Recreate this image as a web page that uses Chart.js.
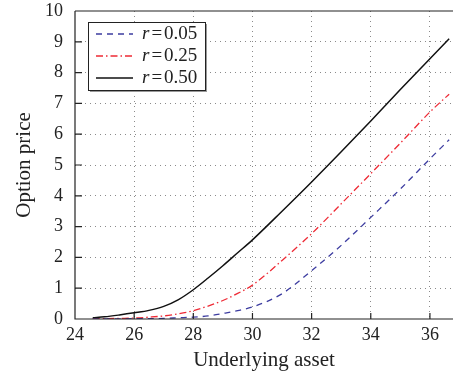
<!DOCTYPE html>
<html>
<head>
<meta charset="utf-8">
<script src="https://cdn.jsdelivr.net/npm/chart.js@4.4.1/dist/chart.umd.min.js"></script>
<style>
  html, body { margin: 0; padding: 0; background: #fff; }
  #chart { display: block; }
</style>
</head>
<body>
<canvas id="chart" width="453" height="375"></canvas>
<script>
const underlying = [24.6, 25, 25.5, 26, 26.5, 27, 27.5, 28, 28.5, 29, 29.5, 30, 31, 32, 33, 34, 35, 36, 36.65];
const priceR005 = [0.0, 0.0, 0.0, 0.01, 0.01, 0.02, 0.04, 0.06, 0.1, 0.18, 0.27, 0.39, 0.82, 1.57, 2.39, 3.3, 4.22, 5.2, 5.82];
const priceR025 = [0.01, 0.01, 0.02, 0.03, 0.06, 0.1, 0.17, 0.27, 0.42, 0.6, 0.83, 1.1, 1.9, 2.77, 3.74, 4.72, 5.71, 6.72, 7.3];
const priceR050 = [0.04, 0.07, 0.13, 0.2, 0.28, 0.41, 0.63, 0.95, 1.33, 1.73, 2.15, 2.57, 3.5, 4.45, 5.43, 6.43, 7.45, 8.45, 9.1];
const rates = ["0.05", "0.25", "0.50"];

const serif = "Liberation Serif";

const toPoints = (ys) => underlying.map((x, i) => ({ x: x, y: ys[i] }));

// frame, inward ticks and the boxed legend
const framePlugin = {
  id: "frame",
  afterDraw(chart) {
    const ctx = chart.ctx;
    const a = chart.chartArea;
    const xs = chart.scales.x;
    const ys = chart.scales.y;
    ctx.save();
    ctx.strokeStyle = "#222";
    ctx.lineWidth = 1.2;
    ctx.setLineDash([]);
    ctx.beginPath();
    ctx.moveTo(a.left, a.top);
    ctx.lineTo(a.left, a.bottom);
    ctx.lineTo(a.right, a.bottom);
    ctx.moveTo(a.left, a.top);
    ctx.lineTo(a.right, a.top);
    ys.ticks.forEach((t) => {
      const p = ys.getPixelForValue(t.value);
      ctx.moveTo(a.left, p);
      ctx.lineTo(a.left + 7, p);
    });
    xs.ticks.forEach((t) => {
      const p = xs.getPixelForValue(t.value);
      ctx.moveTo(p, a.bottom);
      ctx.lineTo(p, a.bottom - 6);
    });
    ctx.stroke();

    // legend
    const bx = 88, by = 22, bw = 117, bh = 68;
    ctx.fillStyle = "#999";
    ctx.fillRect(bx + 2, by + 2, bw, bh);
    ctx.fillStyle = "#fff";
    ctx.fillRect(bx, by, bw, bh);
    ctx.strokeStyle = "#222";
    ctx.lineWidth = 1;
    ctx.strokeRect(bx + 0.5, by + 0.5, bw, bh);

    chart.data.datasets.forEach((ds, i) => {
      const y = by + 12 + i * 22;
      ctx.strokeStyle = ds.borderColor;
      ctx.lineWidth = ds.borderWidth;
      ctx.setLineDash(ds.borderDash || []);
      ctx.beginPath();
      ctx.moveTo(96, y);
      ctx.lineTo(133, y);
      ctx.stroke();
      ctx.setLineDash([]);
      ctx.fillStyle = "#222";
      ctx.textBaseline = "middle";
      ctx.font = "italic 19px 'Liberation Serif', serif";
      ctx.fillText("r", 142, y);
      let x = 142 + ctx.measureText("r").width + 2;
      ctx.font = "19px 'Liberation Serif', serif";
      ctx.fillText("=", x, y);
      x += ctx.measureText("=").width + 2;
      ctx.fillText(rates[i], x, y);
    });
    ctx.restore();
  },
};

const gridColor = (edges) => (c) =>
  edges.includes(c.tick.value) ? "rgba(0,0,0,0)" : "#8a8a8a";

new Chart(document.getElementById("chart"), {
  type: "scatter",
  data: {
    datasets: [
      {
        label: "r=" + rates[0],
        data: toPoints(priceR005),
        borderColor: "#3c3ca0",
        borderWidth: 1.3,
        borderDash: [6, 5],
      },
      {
        label: "r=" + rates[1],
        data: toPoints(priceR025),
        borderColor: "#ee2a35",
        borderWidth: 1.3,
        borderDash: [7, 3, 1.5, 3],
      },
      {
        label: "r=" + rates[2],
        data: toPoints(priceR050),
        borderColor: "#111",
        borderWidth: 1.5,
      },
    ],
  },
  options: {
    responsive: false,
    devicePixelRatio: 1,
    animation: false,
    showLine: true,
    elements: {
      point: { radius: 0, hoverRadius: 0 },
      line: { cubicInterpolationMode: "monotone", fill: false },
    },
    layout: { padding: { top: 1, right: 0, left: 0, bottom: 0 } },
    plugins: {
      legend: { display: false },
      tooltip: { enabled: false },
    },
    scales: {
      x: {
        type: "linear",
        min: 24,
        max: 36.78,
        afterFit: (s) => { s.height = 56; s.paddingRight = 0; },
        ticks: {
          stepSize: 2,
          includeBounds: false,
          padding: 5,
          color: "#222",
          font: { family: serif, size: 18 },
        },
        grid: {
          drawTicks: false,
          color: gridColor([24]),
          lineWidth: 1,
          borderDash: [1, 4],
        },
        border: { display: false, dash: [1, 4] },
        title: {
          display: true,
          text: "Underlying asset",
          color: "#222",
          font: { family: serif, size: 21 },
          padding: { top: 0, bottom: 2 },
        },
      },
      y: {
        min: 0,
        max: 10,
        afterFit: (s) => { s.width = 75; s.paddingTop = 11; s.paddingBottom = 0; },
        ticks: {
          stepSize: 1,
          padding: 12,
          color: "#222",
          font: { family: serif, size: 18 },
        },
        grid: {
          drawTicks: false,
          color: gridColor([0, 10]),
          lineWidth: 1,
          borderDash: [1, 4],
        },
        border: { display: false, dash: [1, 4] },
        title: {
          display: true,
          text: "Option price",
          color: "#222",
          font: { family: serif, size: 21 },
          padding: { top: 12, bottom: 0 },
        },
      },
    },
  },
  plugins: [framePlugin],
});
</script>
</body>
</html>
